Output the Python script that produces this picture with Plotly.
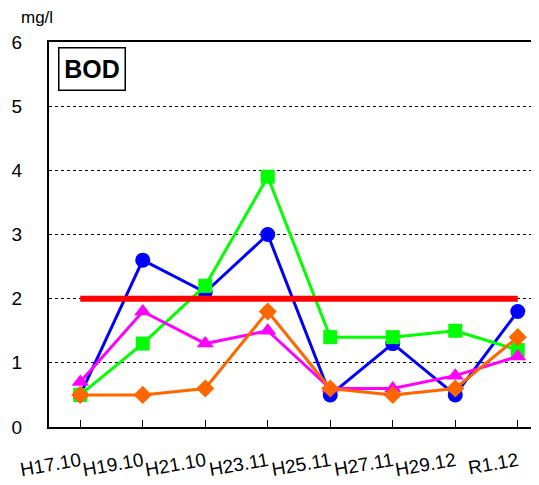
import plotly.graph_objects as go

categories = ["H17.10", "H19.10", "H21.10", "H23.11", "H25.11", "H27.11", "H29.12", "R1.12"]
blue_vals = [0.5, 2.6, 2.1, 3.0, 0.5, 1.3, 0.5, 1.8]
green_vals = [0.5, 1.3, 2.2, 3.9, 1.4, 1.4, 1.5, 1.2]
magenta_vals = [0.7, 1.8, 1.3, 1.5, 0.6, 0.6, 0.8, 1.1]
orange_vals = [0.5, 0.5, 0.6, 1.8, 0.6, 0.5, 0.6, 1.4]
standard_vals = [2.0] * len(categories)
y_ticks = [0, 1, 2, 3, 4, 5, 6]

FONT = "Liberation Sans, Arial, sans-serif"
xi = list(range(len(categories)))

fig = go.Figure()
series = [
    (blue_vals, "#0000FF", "circle", 15),
    (green_vals, "#00FF00", "square", 14),
    (magenta_vals, "#FF00FF", "triangle-up", 15),
    (orange_vals, "#FF6600", "diamond", 14),
]
for vals, col, sym, sz in series:
    fig.add_trace(go.Scatter(
        x=xi, y=vals, mode="lines+markers",
        line=dict(color=col, width=3),
        marker=dict(symbol=sym, size=sz, color=col, line=dict(width=0)),
        showlegend=False, cliponaxis=False))
fig.add_trace(go.Scatter(
    x=xi, y=standard_vals, mode="lines",
    line=dict(color="#FF0000", width=6), showlegend=False))

# page has an 8px body margin, so figure is offset by (8, 8)
fig.update_layout(
    width=531, height=477,
    margin=dict(l=41, r=0, t=34, b=58),
    plot_bgcolor="white", paper_bgcolor="white",
    font=dict(family=FONT, color="black"),
    xaxis=dict(
        range=[-0.5, 7.34], tickvals=xi, ticktext=categories,
        tickangle=-10, tickfont=dict(size=19), automargin=False,
        showline=True, linecolor="black", linewidth=2, mirror=True,
        ticks="inside", ticklen=7, tickcolor="black", tickwidth=1,
        tickson="boundaries", showgrid=False, zeroline=False,
        ticklabelstandoff=14),
    yaxis=dict(
        range=[0, 6], tickvals=y_ticks, tickfont=dict(size=19),
        automargin=False,
        showline=True, linecolor="black", linewidth=2,
        showgrid=True, gridcolor="black", gridwidth=1, griddash="dot",
        zeroline=False, ticks="", ticklabelstandoff=21),
    annotations=[
        dict(text="mg/l", x=(37 - 49) / 490, y=(427 - 18) / 385,
             xref="paper", yref="paper", showarrow=False,
             xanchor="center", yanchor="middle",
             font=dict(size=17, family=FONT)),
        dict(text="<b>BOD</b>", x=(92 - 49) / 490, y=(427 - 69) / 385,
             xref="paper", yref="paper", showarrow=False,
             xanchor="center", yanchor="middle",
             width=57, height=33,
             font=dict(size=25, family=FONT),
             bordercolor="black", borderwidth=1.5, borderpad=4,
             bgcolor="white"),
    ],
)
fig.write_html("out.html")
